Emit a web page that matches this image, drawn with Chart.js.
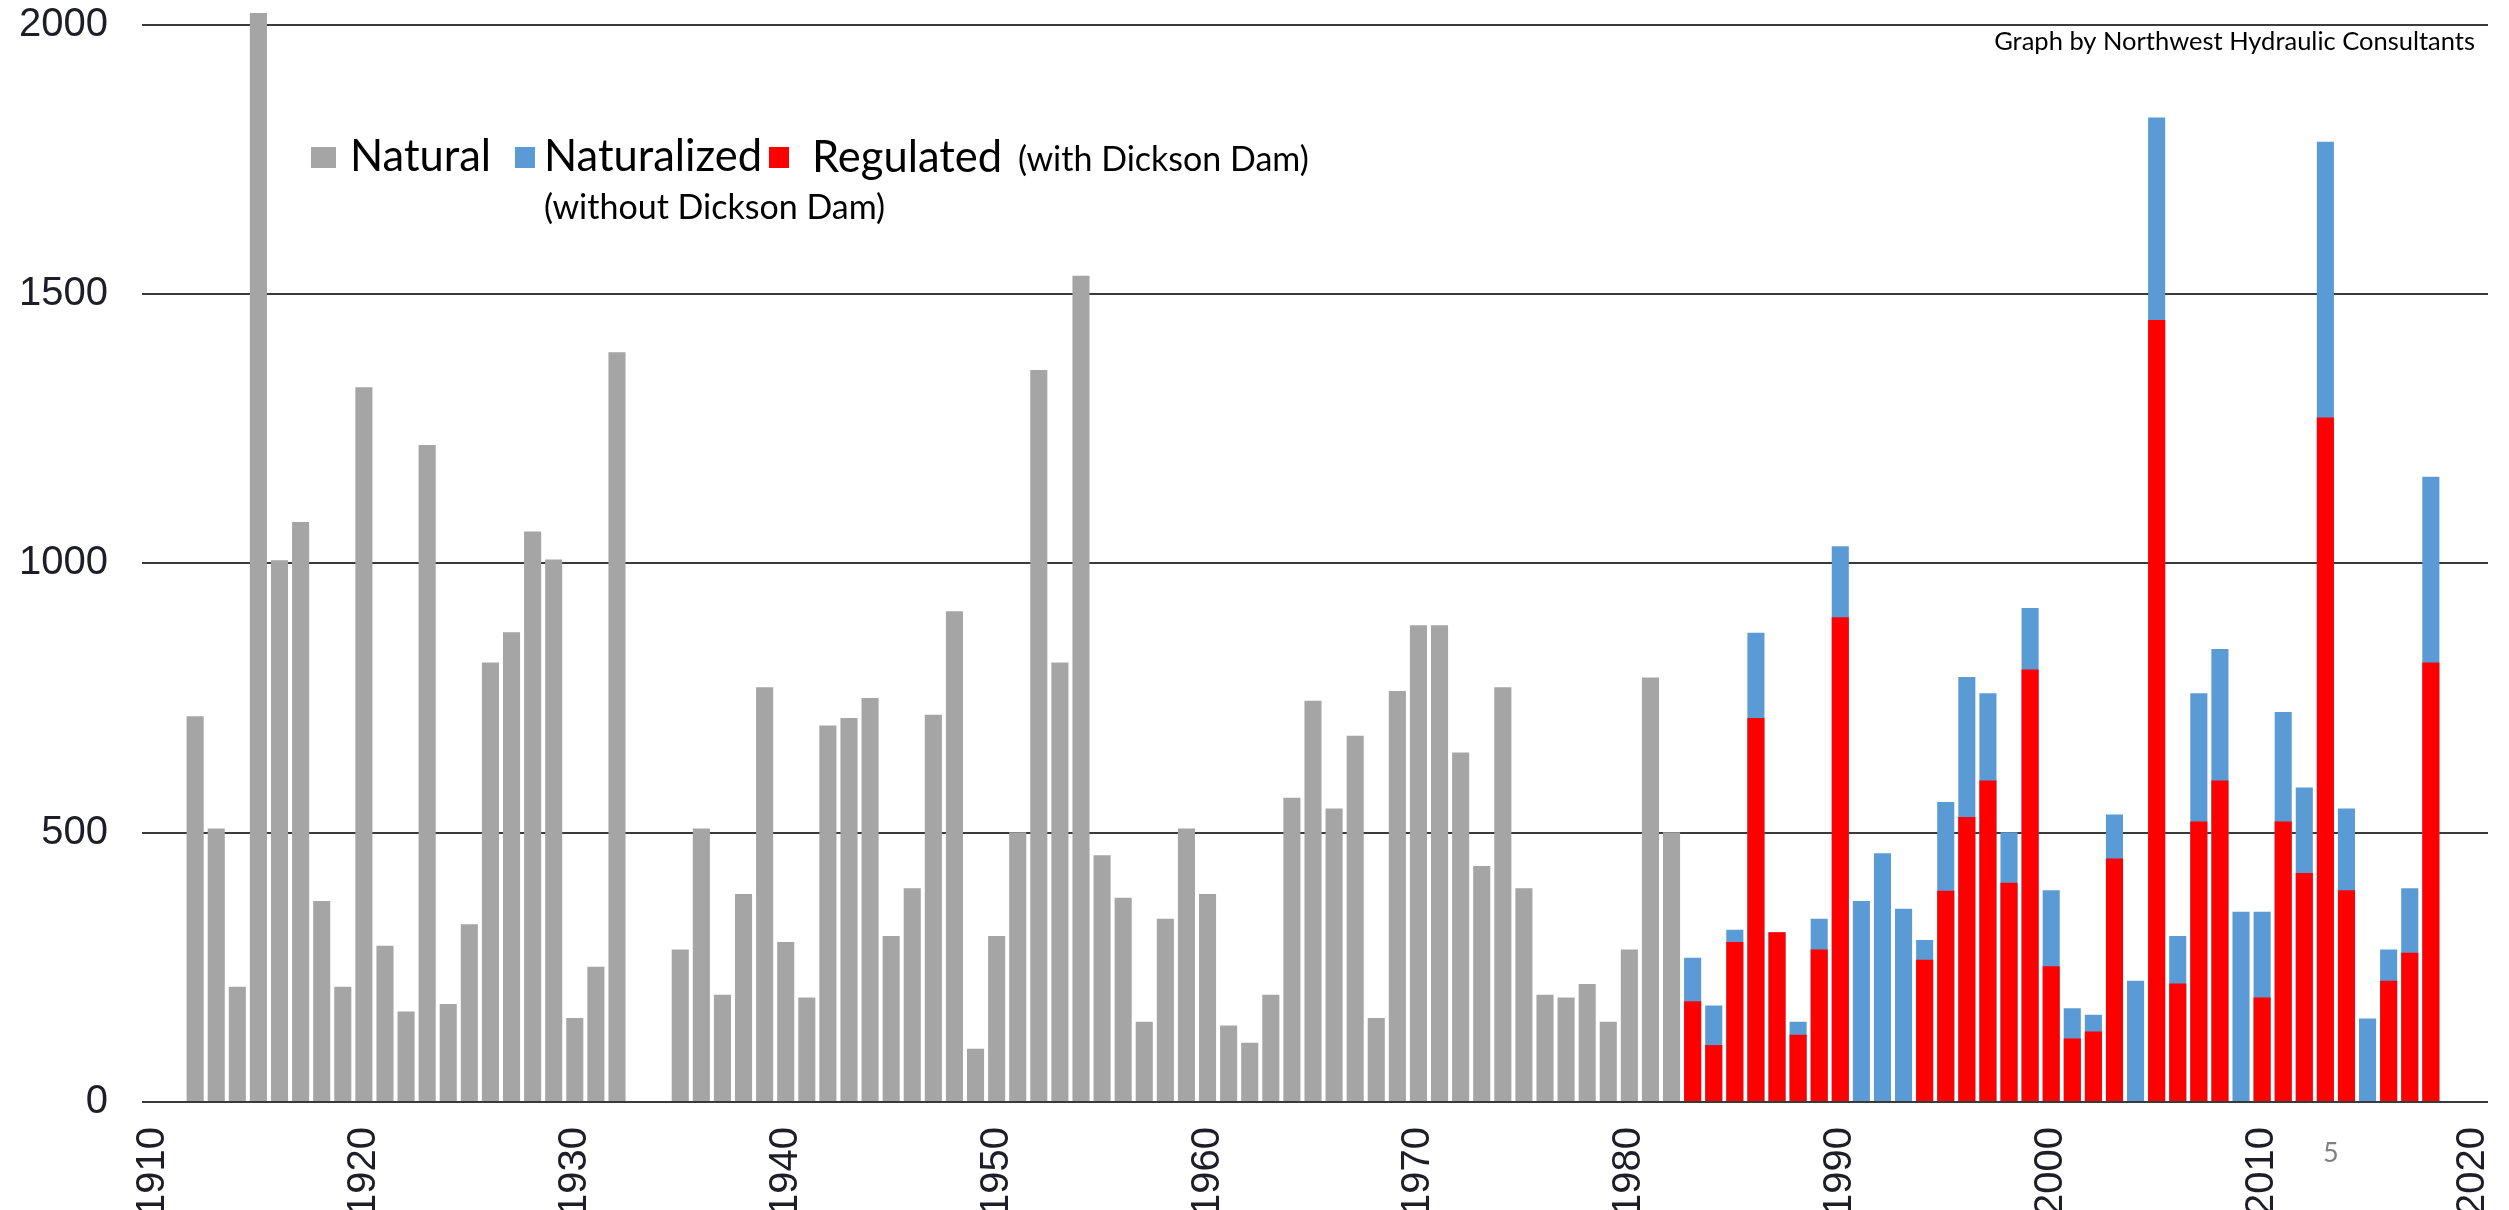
<!DOCTYPE html>
<html>
<head>
<meta charset="utf-8">
<script src="https://cdn.jsdelivr.net/npm/chart.js@4.4.1/dist/chart.umd.min.js"></script>
<style>
  html, body { margin: 0; padding: 0; background: #fff; }
  #wrap { width: 2509px; height: 1210px; }
</style>
</head>
<body>
<div id="wrap"><canvas id="chart" width="2509" height="1210"></canvas></div>
<script>
// yearly values (no record for 1933-34)
const naturalYears = [
  1912, 1913, 1914, 1915, 1916, 1917, 1918, 1919, 1920, 1921, 1922,
  1923, 1924, 1925, 1926, 1927, 1928, 1929, 1930, 1931, 1932,
  1935, 1936, 1937, 1938, 1939, 1940, 1941, 1942, 1943, 1944, 1945,
  1946, 1947, 1948, 1949, 1950, 1951, 1952, 1953, 1954, 1955, 1956,
  1957, 1958, 1959, 1960, 1961, 1962, 1963, 1964, 1965, 1966, 1967,
  1968, 1969, 1970, 1971, 1972, 1973, 1974, 1975, 1976, 1977, 1978,
  1979, 1980, 1981, 1982
];
const natural = [
  716, 508, 214, 2022, 1006, 1077, 373, 214, 1327, 290, 168,
  1220, 182, 330, 816, 872, 1059, 1007, 156, 251, 1392,
  283, 508, 199, 386, 770, 297, 194, 699, 713, 750, 308,
  397, 719, 911, 99, 308, 501, 1359, 816, 1534, 458, 379,
  149, 340, 508, 386, 142, 110, 199, 565, 745, 545, 680,
  156, 763, 885, 885, 649, 438, 770, 397, 199, 194, 219,
  149, 283, 788, 501
];

const damYears = [
  1983, 1984, 1985, 1986, 1987, 1988, 1989, 1990, 1991, 1992,
  1993, 1994, 1995, 1996, 1997, 1998, 1999, 2000, 2001, 2002,
  2003, 2004, 2005, 2006, 2007, 2008, 2009, 2010, 2011, 2012,
  2013, 2014, 2015, 2016, 2017, 2018
];
// without Dickson Dam
const naturalized = [
  268, 179, 320, 871, 315, 149, 340, 1032, 373, 462,
  359, 301, 557, 789, 759, 501, 917, 393, 174, 162,
  534, 225, 1828, 308, 759, 841, 353, 353, 724, 584,
  1783, 545, 155, 283, 397, 1161
];
// with Dickson Dam
const regulated = [
  187, 106, 297, 713, 315, 125, 283, 900, null, null,
  null, 264, 392, 529, 597, 407, 803, 252, 118, 131,
  452, null, 1452, 220, 521, 597, null, 194, 521, 425,
  1271, 393, null, 225, 277, 816
];

const xTicks = [1910, 1920, 1930, 1940, 1950, 1960, 1970, 1980, 1990, 2000, 2010, 2020];
const yTicks = [0, 500, 1000, 1500, 2000];
const legendNames = ['Natural', 'Naturalized', 'Regulated'];
const legendNotes = ['(without Dickson Dam)', '(with Dickson Dam)'];
const credit = 'Graph by Northwest Hydraulic Consultants';
const pageNo = '5';

function pairs(years, vals) {
  const out = [];
  years.forEach(function (yr, i) {
    if (vals[i] !== null) out.push({ x: yr, y: vals[i] });
  });
  return out;
}

// legend + credit line, drawn by hand like the original slide
const notes = {
  id: 'notes',
  afterDraw(c) {
    const ctx = c.ctx;
    ctx.save();
    ctx.textBaseline = 'alphabetic';
    ctx.textAlign = 'left';
    ctx.fillStyle = '#a5a5a5'; ctx.fillRect(311, 147, 25, 21);
    ctx.fillStyle = '#5b9bd5'; ctx.fillRect(515, 147, 20, 21);
    ctx.fillStyle = '#ff0000'; ctx.fillRect(769, 147, 20, 21);

    ctx.fillStyle = '#000';
    ctx.font = '43.5px Lato';
    ctx.fillText(legendNames[0], 350, 171);
    ctx.fillText(legendNames[1], 544, 171);
    ctx.fillText(legendNames[2], 812, 172);
    ctx.font = '34px Lato';
    ctx.fillText(legendNotes[1], 1018, 171);
    ctx.fillText(legendNotes[0], 544, 219);

    ctx.font = '25.5px Lato';
    ctx.textAlign = 'right';
    ctx.fillText(credit, 2475, 50);

    ctx.textAlign = 'left';
    ctx.fillStyle = '#808080';
    ctx.font = '27px Lato';
    ctx.fillText(pageNo, 2323, 1162);
    ctx.restore();
  }
};

const tickFont = { family: '"Liberation Sans", Arial, sans-serif', size: 40 };

new Chart(document.getElementById('chart'), {
  type: 'bar',
  data: {
    datasets: [
      { label: legendNames[2], data: pairs(damYears, regulated), backgroundColor: '#ff0000', order: 0 },
      { label: legendNames[1], data: pairs(damYears, naturalized), backgroundColor: '#5b9bd5', order: 1 },
      { label: legendNames[0], data: pairs(naturalYears, natural), backgroundColor: '#a5a5a5', order: 2 }
    ]
  },
  options: {
    responsive: false,
    animation: false,
    layout: { padding: { top: 0, right: 21, bottom: 0, left: 0 } },
    datasets: { bar: { grouped: false, barPercentage: 1, categoryPercentage: 0.81, borderWidth: 0 } },
    plugins: { legend: { display: false }, tooltip: { enabled: false } },
    scales: {
      x: {
        type: 'linear', min: 1909.48, max: 2020.71, offset: false,
        grid: { display: false, drawTicks: false },
        border: { display: false },
        afterBuildTicks: function (s) { s.ticks = xTicks.map(function (v) { return { value: v }; }); },
        afterFit: function (s) { s.height = 108; s.paddingLeft = 0; s.paddingRight = 0; },
        ticks: {
          minRotation: 90, maxRotation: 90, autoSkip: false, padding: 25,
          color: '#1e1e28', font: tickFont,
          callback: function (v) { return String(v); }
        }
      },
      y: {
        min: 0, max: 2046,
        grid: { color: '#3a3a3a', lineWidth: 2, drawTicks: false },
        border: { display: false },
        afterBuildTicks: function (s) { s.ticks = yTicks.map(function (v) { return { value: v }; }); },
        afterFit: function (s) { s.width = 142; s.paddingTop = 0; s.paddingBottom = 0; },
        ticks: {
          padding: 34, color: '#1e1e28', font: tickFont,
          callback: function (v) { return String(v); }
        }
      }
    }
  },
  plugins: [notes]
});
</script>
</body>
</html>
